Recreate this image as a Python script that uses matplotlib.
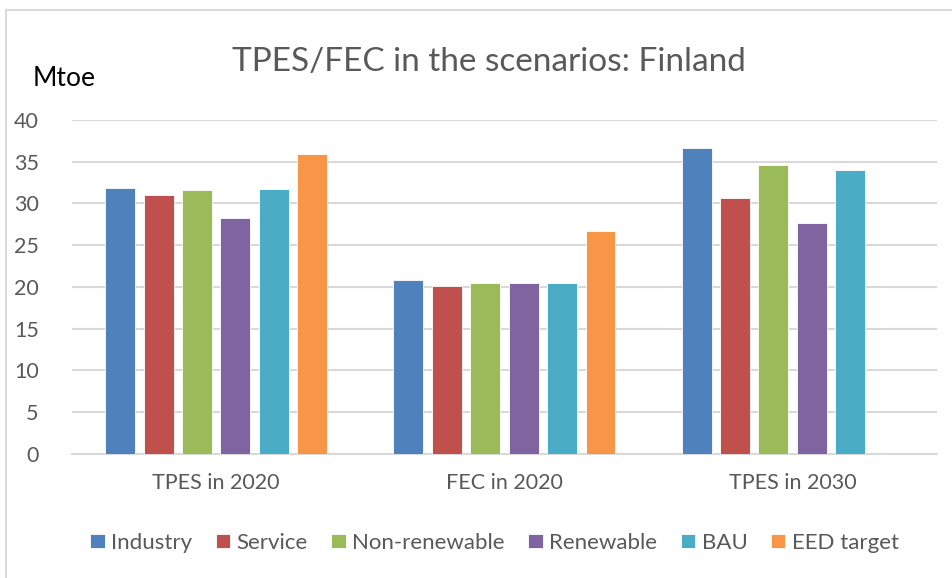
import matplotlib
matplotlib.use('Agg')
import matplotlib.pyplot as plt
import numpy as np
from matplotlib.lines import Line2D

plt.rcParams['font.family'] = ['Lato', 'DejaVu Sans']

categories = ['TPES in 2020', 'FEC in 2020', 'TPES in 2030']
series = ['Industry', 'Service', 'Non-renewable', 'Renewable', 'BAU', 'EED target']
values = {
    'Industry':      [31.8, 20.8, 36.6],
    'Service':       [31.0, 20.1, 30.7],
    'Non-renewable': [31.6, 20.5, 34.6],
    'Renewable':     [28.2, 20.5, 27.7],
    'BAU':           [31.7, 20.5, 34.0],
    'EED target':    [35.9, 26.7, np.nan],
}
colors = ['#4F81BD', '#C0504D', '#9BBB59', '#8064A2', '#4BACC6', '#F79646']

fig = plt.figure(figsize=(9.53, 5.78), dpi=100)
ax = fig.add_axes([0.0756, 0.2145, 0.9074, 0.578])

x = np.arange(len(categories))
slot = 0.8 / len(series)
for i, name in enumerate(series):
    ax.bar(x + (i - 2.5) * slot, values[name], width=slot * 0.78,
           color=colors[i], edgecolor='white', linewidth=0.6, label=name, zorder=3)

ax.set_xlim(-0.5, 2.5)
ax.set_ylim(0, 40)
ax.set_yticks(range(0, 41, 5))
ax.set_xticks(x)
ax.set_xticklabels(categories)
ax.grid(axis='y', color='#D9D9D9', linewidth=1.5, zorder=0)
for s in ['top', 'right', 'left']:
    ax.spines[s].set_visible(False)
ax.spines['bottom'].set_color('#D9D9D9')
ax.spines['bottom'].set_linewidth(1.5)
ax.tick_params(axis='both', length=0, labelsize=15.5, colors='#595959')
ax.tick_params(axis='y', pad=24)
ax.tick_params(axis='x', pad=14)

fig.text(0.513, 0.893, 'TPES/FEC in the scenarios: Finland', ha='center', va='center',
         fontsize=24, color='#595959')
fig.text(0.034, 0.865, 'Mtoe', ha='left', va='center', fontsize=19, color='black')

leg = ax.legend(loc='center', ncol=6, frameon=False, fontsize=16,
                handlelength=0.65, handleheight=0.65, handletextpad=0.3,
                columnspacing=1.05, labelcolor='#595959')
leg.set_bbox_to_anchor((0.519, 0.061), transform=fig.transFigure)

# chart frame (top and left edges visible)
fig.add_artist(Line2D([0.0063, 1.0], [0.982, 0.982], transform=fig.transFigure,
                      color='#D9D9D9', linewidth=1.5))
fig.add_artist(Line2D([0.0063, 0.0063], [0.0, 0.982], transform=fig.transFigure,
                      color='#D9D9D9', linewidth=1.5))

fig.savefig('out.png', dpi=100)
